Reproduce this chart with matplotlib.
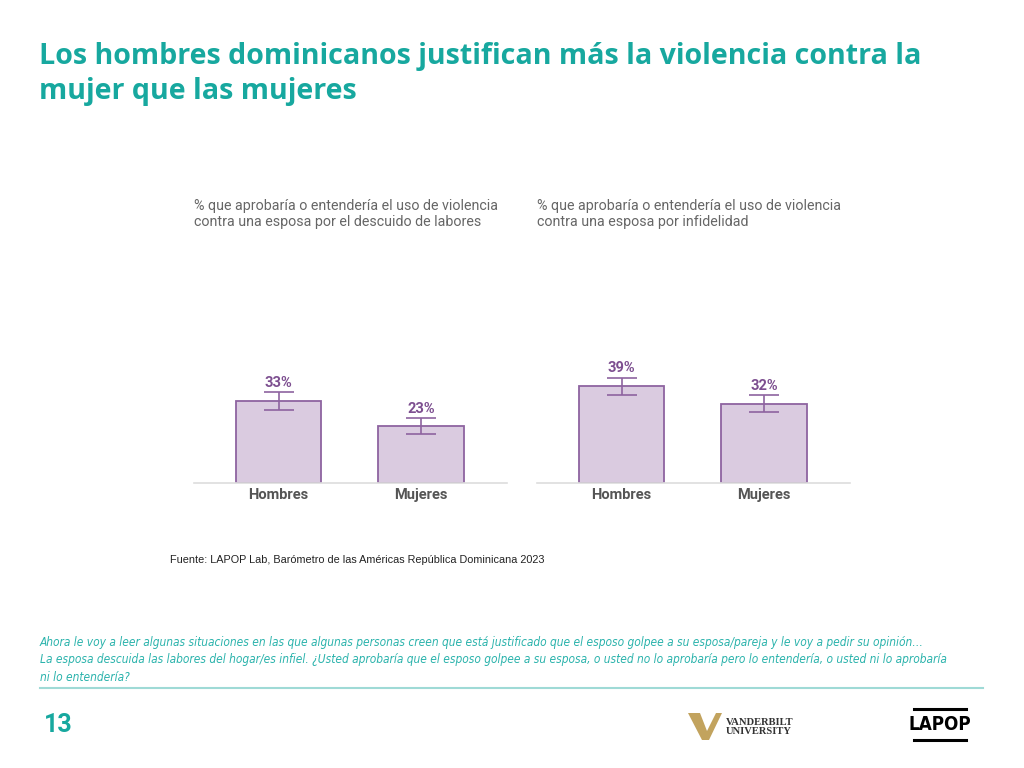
import matplotlib
matplotlib.use("Agg")
import matplotlib.pyplot as plt
from matplotlib.lines import Line2D
from matplotlib.patches import Polygon

# data
categories = ["Hombres", "Mujeres"]
labores = [33, 23]
labores_err = [3.6, 3.2]
infidelidad = [39, 32]
infidelidad_err = [3.4, 3.4]

title = "Los hombres dominicanos justifican más la violencia contra la\nmujer que las mujeres"
sub_left = "% que aprobaría o entendería el uso de violencia\ncontra una esposa por el descuido de labores"
sub_right = "% que aprobaría o entendería el uso de violencia\ncontra una esposa por infidelidad"
source = "Fuente: LAPOP Lab, Barómetro de las Américas República Dominicana 2023"
question = ("Ahora le voy a leer algunas situaciones en las que algunas personas creen que está justificado "
            "que el esposo golpee a su esposa/pareja y le voy a pedir su opinión…\n"
            "La esposa descuida las labores del hogar/es infiel. ¿Usted aprobaría que el esposo golpee a su "
            "esposa, o usted no lo aprobaría pero lo entendería, o usted ni lo aprobaría\n"
            "ni lo entendería?")

TEAL = "#17a89f"
FILL = "#dacbe0"
EDGE = "#8e63a0"
LABEL = "#7d4f90"
GRAY = "#555555"

W, H = 1024, 768


def fx(px):
    return px / W


def fy(py):
    return 1 - py / H


fig = plt.figure(figsize=(10.24, 7.68), dpi=100)
fig.patch.set_facecolor("white")

fig.text(fx(39), fy(42), title, fontsize=20.6, fontweight="bold",
         color=TEAL, family="Open Sans", va="top", ha="left", linespacing=1.28)


def draw_panel(left, values, errs, subtitle):
    ax = fig.add_axes([fx(left), 285 / H, 0.3052, 248 / H])
    x = range(len(categories))
    ax.bar(x, values, width=0.6, color=FILL, edgecolor=EDGE, linewidth=1.3, zorder=2)
    ax.errorbar(x, values, yerr=errs, fmt="none", ecolor=EDGE, elinewidth=1.2,
                capsize=11, capthick=1.2, zorder=3)
    for xi, v, e in zip(x, values, errs):
        ax.text(xi, v + e + 1.0, f"{v}%", ha="center", va="bottom", fontsize=10.5,
                fontweight="bold", color=LABEL, family="Roboto")
    ax.set_xlim(-0.595, 1.6)
    ax.set_ylim(0, 100)
    ax.set_xticks(list(x))
    ax.set_xticklabels(categories, fontsize=10.5, fontweight="bold", color=GRAY, family="Roboto")
    ax.tick_params(axis="x", length=0, pad=3.5)
    ax.set_yticks([])
    for s in ["top", "right", "left"]:
        ax.spines[s].set_visible(False)
    ax.spines["bottom"].set_color("#dddddd")
    ax.spines["bottom"].set_linewidth(1.2)
    ax.set_facecolor("none")
    fig.text(fx(left), fy(199), subtitle, fontsize=10.3, color="#666666",
             family="Roboto", va="top", ha="left", linespacing=1.18)
    return ax


draw_panel(194, labores, labores_err, sub_left)
draw_panel(537, infidelidad, infidelidad_err, sub_right)

fig.text(fx(170), fy(560), source, fontsize=7.8, color="#222222",
         family="Liberation Sans", va="center", ha="left")

fig.text(fx(40), fy(636), question, fontsize=8.55, color="#2bb3ac",
         family="DejaVu Sans", stretch="condensed", style="italic",
         va="top", ha="left", linespacing=1.44)

fig.add_artist(Line2D([fx(40), fx(983)], [fy(688), fy(688)],
                      color="#9fdad6", linewidth=1.5))

fig.text(fx(44), fy(725), "13", fontsize=18, fontweight="bold", color=TEAL,
         family="Roboto", va="center", ha="left")

# Vanderbilt logo, approximated
v_pts = [(688, 713), (700, 713), (707, 731), (716, 713), (722, 713), (709, 740), (702, 740)]
fig.add_artist(Polygon([(fx(a), fy(b)) for a, b in v_pts], closed=True,
                       transform=fig.transFigure, facecolor="#c2a35e", edgecolor="none"))
fig.text(fx(726), fy(727), "VANDERBILT\nUNIVERSITY", fontsize=7.6, fontweight="bold",
         color="#333333", family="Liberation Serif", va="center", ha="left", linespacing=0.9)

# LAPOP logo, approximated
fig.text(fx(940), fy(725), "LAPOP", fontsize=13.5, fontweight="bold", color="black",
         family="DejaVu Sans", stretch="condensed", va="center", ha="center")
for yy in [709, 740]:
    fig.add_artist(Line2D([fx(914), fx(966)], [fy(yy), fy(yy)],
                          color="black", linewidth=2.2))

fig.savefig("out.png", dpi=100)
